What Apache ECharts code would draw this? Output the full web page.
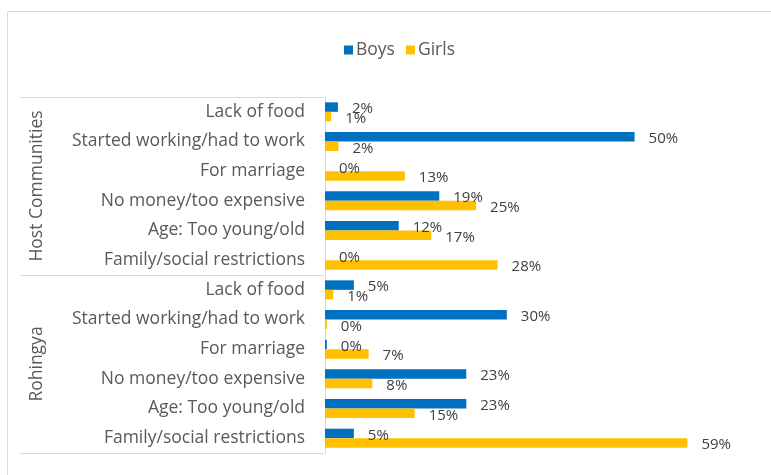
<!DOCTYPE html>
<html lang="en">
<head>
    <meta charset="UTF-8">
    <title>Reasons for dropping out</title>
    <script src="https://cdn.jsdelivr.net/npm/echarts@6/dist/echarts.min.js"></script>
    <style>
        html, body { margin: 0; padding: 0; background: #fff; }
        #chart1 { width: 771px; height: 475px; }
    </style>
</head>
<body>
<div id="chart1"></div>
<script>
    // categories (top to bottom)
    var groups = ['Host Communities', 'Rohingya'];
    var reasons = ['Lack of food', 'Started working/had to work', 'For marriage',
        'No money/too expensive', 'Age: Too young/old', 'Family/social restrictions'];
    var categories = reasons.concat(reasons);

    // percentages
    var boys = [2.1, 50.4, 0, 18.6, 12.0, 0,
        4.7, 29.6, 0.3, 23.0, 23.0, 4.7];
    var girls = [1.0, 2.2, 13.0, 24.6, 17.3, 28.1,
        1.35, 0.3, 7.1, 7.7, 14.6, 59.0];

    var font = 'Open Sans';
    var myChart1 = echarts.init(document.getElementById('chart1'));

    function barLabel() {
        return {
            show: true,
            position: 'right',
            distance: 14,
            offset: [0, 2],
            color: '#404040',
            fontFamily: font,
            fontSize: 15,
            formatter: function (p) { return Math.round(p.value) + '%'; }
        };
    }

    myChart1.setOption({
        animation: false,
        graphic: [{
            type: 'rect',
            shape: { x: 7.5, y: 11.5, width: 800, height: 500 },
            style: { fill: 'none', stroke: '#d9d9d9', lineWidth: 1 },
            silent: true
        }],
        legend: {
            data: ['Boys', 'Girls'],
            left: 339,
            top: 36,
            itemWidth: 9,
            itemHeight: 9,
            itemGap: 11,
            icon: 'rect',
            textStyle: { color: '#595959', fontFamily: font, fontSize: 17.5, padding: [0, 0, 0, -2] }
        },
        grid: { left: 325, right: 16, top: 97, bottom: 22 },
        xAxis: {
            type: 'value',
            min: 0,
            max: 70,
            show: false
        },
        yAxis: [{
            type: 'category',
            data: categories,
            inverse: true,
            axisLine: { show: true, lineStyle: { color: '#d9d9d9' } },
            axisTick: { show: false },
            axisLabel: { interval: 0, color: '#595959', fontFamily: font, fontSize: 17.5, margin: 20 }
        }, {
            type: 'category',
            data: groups,
            inverse: true,
            position: 'left',
            offset: 305,
            axisLine: { show: false },
            axisTick: { show: true, interval: 0, inside: true, length: 304, lineStyle: { color: '#d9d9d9' } },
            axisLabel: { interval: 0, inside: true, rotate: 90, margin: 8, color: '#595959', fontFamily: font, fontSize: 17.5 }
        }],
        series: [{
            name: 'Boys',
            type: 'bar',
            yAxisIndex: 0,
            data: boys,
            barGap: '0%',
            barCategoryGap: '36%',
            itemStyle: { color: '#0070C0' },
            label: barLabel()
        }, {
            name: 'Girls',
            type: 'bar',
            yAxisIndex: 0,
            data: girls,
            itemStyle: { color: '#FFC000' },
            label: barLabel()
        }]
    });
</script>
</body>
</html>
